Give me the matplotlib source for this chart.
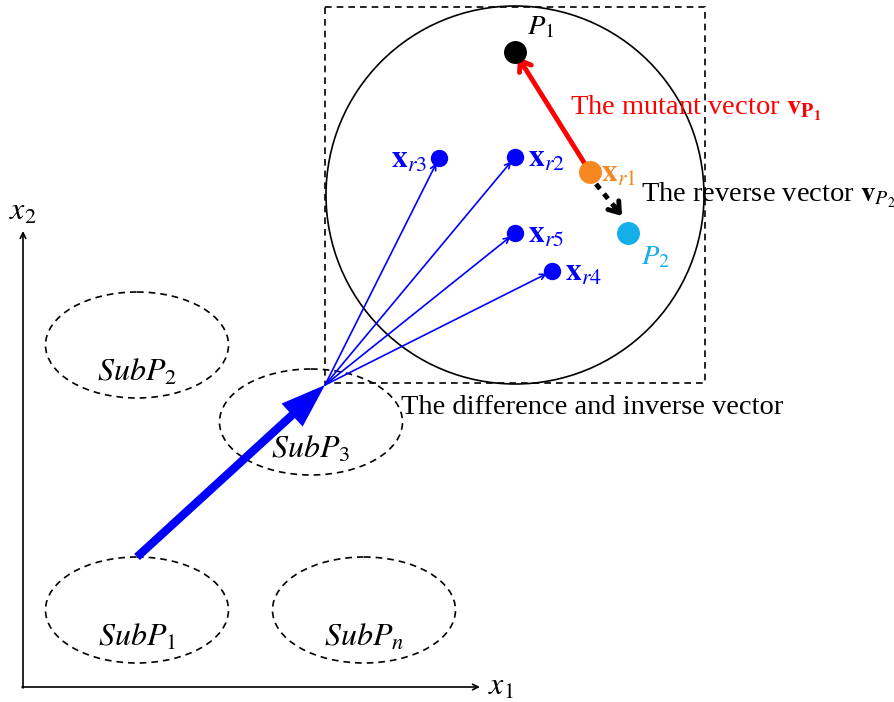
import matplotlib.pyplot as plt
from matplotlib.patches import Ellipse, Circle, Rectangle, FancyArrowPatch

plt.rcParams['font.family'] = ['Liberation Serif', 'DejaVu Serif']
plt.rcParams['mathtext.fontset'] = 'stix'

# sub-populations (centre x, centre y) in picture units
sub_names = [r'$SubP_2$', r'$SubP_3$', r'$SubP_1$', r'$SubP_n$']
sub_x = [137, 311, 137, 364]
sub_y = [345, 422, 610, 610]

# random individuals x_r2..x_r5
xr_names = [r'$\mathbf{x}_{r3}$', r'$\mathbf{x}_{r2}$', r'$\mathbf{x}_{r5}$', r'$\mathbf{x}_{r4}$']
xr_x = [439, 515, 515, 552]
xr_y = [158, 157, 233, 271]

origin = (325, 385)
start = (137, 557)
xr1 = (590, 172)
p1 = (515, 52)
p2 = (628, 233)

BLUE = '#0000ff'
ORANGE = '#f7871f'
CYAN = '#14aee8'

fig = plt.figure(figsize=(8.95, 7.02), dpi=100)
ax = fig.add_axes([0, 0, 1, 1])
ax.set_xlim(0, 895)
ax.set_ylim(702, 0)
ax.axis('off')

fs = 20.5
fs_sub = 23
fs_xr = 22.5

# axes arrows
ax.annotate('', xy=(480, 687), xytext=(22, 687),
            arrowprops=dict(arrowstyle='->', lw=1.2, color='black', shrinkA=0, shrinkB=0))
ax.annotate('', xy=(23, 231), xytext=(23, 688),
            arrowprops=dict(arrowstyle='->', lw=1.2, color='black', shrinkA=0, shrinkB=0))
ax.text(501, 687, r'$x_1$', fontsize=fs_sub, ha='center', va='center')
ax.text(23, 212, r'$x_2$', fontsize=fs_sub, ha='center', va='center')

# dashed ellipses
for name, cx, cy in zip(sub_names, sub_x, sub_y):
    ax.add_patch(Ellipse((cx, cy), 183, 106, fill=False, ls=(0, (4, 3)), lw=1.2, color='black'))
    ax.text(cx, cy + 28, name, fontsize=fs_sub, ha='center', va='center')

# dashed box and circle
ax.add_patch(Rectangle((325, 7), 380, 376, fill=False, ls=(0, (4, 3)), lw=1.2, color='black'))
ax.add_patch(Circle((515, 195), 189, fill=False, lw=1.2, color='black'))

# thick blue arrow
ax.add_patch(FancyArrowPatch(start, origin, arrowstyle='-|>,head_length=20,head_width=7',
                             mutation_scale=1, lw=6, color=BLUE, shrinkA=0, shrinkB=0,
                             capstyle='butt', joinstyle='miter'))

# thin blue arrows and dots
for name, x, y in zip(xr_names, xr_x, xr_y):
    ax.annotate('', xy=(x, y), xytext=origin,
                arrowprops=dict(arrowstyle='->', lw=1.2, color=BLUE, shrinkA=0, shrinkB=4))
    ax.plot(x, y, 'o', ms=11.5, color=BLUE, zorder=5)
for name, x, y, dx in zip(xr_names, xr_x, xr_y, [-30, 31, 31, 31]):
    ax.text(x + dx, y + 2, name, fontsize=fs_xr, color=BLUE, ha='center', va='center')

# mutant vector
ax.add_patch(FancyArrowPatch(xr1, (p1[0] + 3, p1[1] + 5), arrowstyle='->,head_length=7,head_width=5',
                             mutation_scale=1, lw=3.5, color='red', shrinkA=0, shrinkB=0, zorder=4))
ax.text(570, 108, r'The mutant vector $\mathbf{v}_{\mathbf{P_1}}$', fontsize=fs, color='red',
        ha='left', va='center')

# reverse vector: dashed shaft + solid head
ax.plot([596, 618], [184, 211], ls=(0, (1.3, 1.3)), lw=3.5, color='black', zorder=4)
ax.add_patch(FancyArrowPatch((614, 206), (622, 216), arrowstyle='->,head_length=7,head_width=5',
                             mutation_scale=1, lw=3.5, color='black', shrinkA=0, shrinkB=0, zorder=4))
ax.text(641, 195, r'The reverse vector $\mathbf{v}_{P_2}$', fontsize=fs, color='black',
        ha='left', va='center')

ax.plot(*xr1, 'o', ms=15.5, color=ORANGE, zorder=6)
ax.text(619, 174, r'$\mathbf{x}_{r1}$', fontsize=fs_xr, color=ORANGE, ha='center', va='center')
ax.plot(*p1, 'o', ms=15.5, color='black', zorder=6)
ax.text(541, 28, r'$P_1$', fontsize=fs, color='black', ha='center', va='center')
ax.plot(*p2, 'o', ms=15.5, color=CYAN, zorder=6)
ax.text(655, 258, r'$P_2$', fontsize=fs, color=CYAN, ha='center', va='center')

ax.text(401, 407, 'The difference and inverse vector', fontsize=fs, ha='left', va='center')

fig.savefig('out.png', dpi=100)
